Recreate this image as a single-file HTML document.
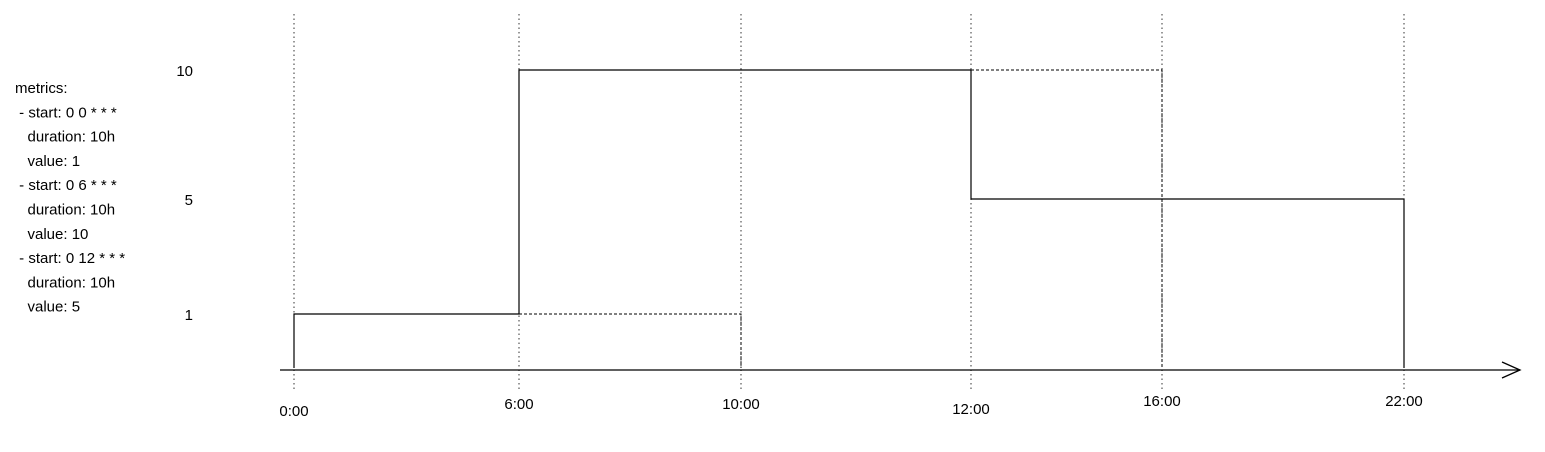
<!DOCTYPE html>
<html><head><meta charset="utf-8"><style>
body{margin:0;background:#fff;width:1545px;height:447px;overflow:hidden}
svg{font-family:"Liberation Sans",sans-serif;font-size:15px}
</style></head><body>
<svg id="c" width="1545" height="447">
<text x="15" y="93">
<tspan x="15" y="93">metrics:</tspan>
<tspan x="15" dy="24.3">&#160;- start: 0 0 * * *</tspan>
<tspan x="15" dy="24.3">&#160; &#160;duration: 10h</tspan>
<tspan x="15" dy="24.3">&#160; &#160;value: 1</tspan>
<tspan x="15" dy="24.3">&#160;- start: 0 6 * * *</tspan>
<tspan x="15" dy="24.3">&#160; &#160;duration: 10h</tspan>
<tspan x="15" dy="24.3">&#160; &#160;value: 10</tspan>
<tspan x="15" dy="24.3">&#160;- start: 0 12 * * *</tspan>
<tspan x="15" dy="24.3">&#160; &#160;duration: 10h</tspan>
<tspan x="15" dy="24.3">&#160; &#160;value: 5</tspan>
</text>
<g id="g"></g>
</svg>
<script>
const tickHours=[0,6,10,12,16,22];
const tickLabels=["0:00","6:00","10:00","12:00","16:00","22:00"];
const yTicks=[10,5,1];
const solidHours=[0,0,6,6,12,12,22,22];
const solidValues=[0,1,1,10,10,5,5,0];
const dash1Hours=[6,10,10];
const dash1Values=[1,1,0];
const dash2Hours=[12,16,16];
const dash2Values=[10,10,0];
// hand-drawn sketch layout: piecewise scales
const xBreak=[[0,294],[6,519],[10,741],[12,971],[16,1162],[22,1404]];
const yBreak=[[0,368],[1,314],[5,199],[10,70]];
function pw(b,v){for(let i=0;i<b.length-1;i++){if(v<=b[i+1][0]){const t=(v-b[i][0])/(b[i+1][0]-b[i][0]);return b[i][1]+t*(b[i+1][1]-b[i][1]);}}return b[b.length-1][1];}
const X=h=>pw(xBreak,h),Y=v=>pw(yBreak,v);
const NS="http://www.w3.org/2000/svg",g=document.getElementById('g');
function mk(t,a){const e=document.createElementNS(NS,t);for(const k in a)e.setAttribute(k,a[k]);g.appendChild(e);return e;}
const labYs=[416,409,409,414,406,406];
tickHours.forEach((h,i)=>{
 const l=mk('line',{x1:X(h),y1:14,x2:X(h),y2:392,stroke:'#333','stroke-width':1,'stroke-dasharray':'1.5 3'});
 
 
 const t=mk('text',{x:X(h),y:labYs[i],'text-anchor':'middle'});t.textContent=tickLabels[i];
 
 
});
yTicks.forEach(v=>{
 const t=mk('text',{x:193,y:Y(v)+6,'text-anchor':'end'});t.textContent=v;
 
 
});
const ax=mk('line',{x1:280,y1:370,x2:1520,y2:370,stroke:'#000','stroke-width':1.3});


const ar=mk('path',{d:'M1502 362 L1520 370 L1502 378',fill:'none',stroke:'#000','stroke-width':1.3});


function pts(hs,vs){return hs.map((h,i)=>X(h)+','+Y(vs[i])).join(' ');}
const s=mk('polyline',{points:pts(solidHours,solidValues),fill:'none',stroke:'#000','stroke-width':1.2});


const d1=mk('polyline',{points:pts(dash1Hours,dash1Values),fill:'none',stroke:'#000','stroke-width':1,'stroke-dasharray':'3 2'});


const d2=mk('polyline',{points:pts(dash2Hours,dash2Values),fill:'none',stroke:'#000','stroke-width':1,'stroke-dasharray':'3 2'});


</script>
</body></html>
